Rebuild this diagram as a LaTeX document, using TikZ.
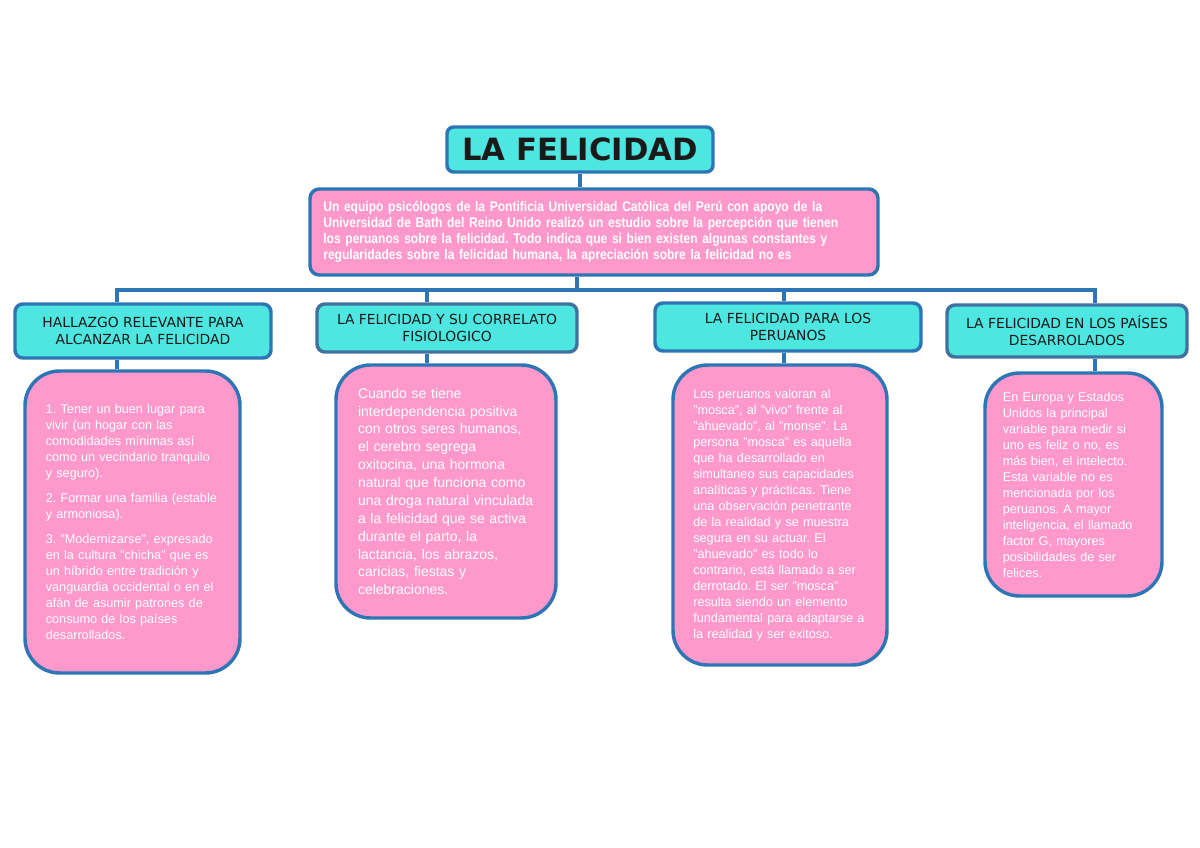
\documentclass[tikz,border=0pt]{standalone}
\usepackage{fontspec}
\setmainfont{Liberation Sans}
\newfontfamily\headfont{DejaVu Sans}
\newfontfamily\narrowfont[FakeStretch=0.86]{Liberation Sans}
\usetikzlibrary{positioning}
\definecolor{BoxBlue}{HTML}{2E75B6}
\definecolor{SteelBlue}{HTML}{41719C}
\definecolor{Aqua}{HTML}{4EE6E0}
\definecolor{Rose}{HTML}{FF99CC}
\definecolor{Ink}{HTML}{1A1A1A}
\frenchspacing

\begin{document}
\begin{tikzpicture}[x=0.75pt,y=-0.75pt,
      title/.style={rounded corners=5pt,draw=BoxBlue,fill=Aqua,line width=2.6pt,
      minimum width=199.5pt,minimum height=33.75pt,font=\headfont\bfseries\fontsize{23}{26}\selectfont,text=Ink},
      head/.style={rounded corners=6pt,draw=BoxBlue,fill=Aqua,line width=2.6pt,
      minimum height=36pt,align=center,font=\headfont\fontsize{10.4}{12.5}\selectfont,text=Ink},
      summary/.style={rounded corners=7pt,draw=BoxBlue,fill=Rose,line width=2.6pt,
      minimum width=426pt,minimum height=64.5pt,text width=406pt,align=left,
      font=\narrowfont\bfseries\fontsize{10.5}{12}\selectfont,text=white},
      note/.style={rounded corners=26pt,draw=BoxBlue,fill=Rose,line width=2.6pt,
      align=left,font=\fontsize{9.5}{12}\selectfont,text=white},
      link/.style={draw=BoxBlue,line width=2.6pt}]
  \fill[white] (0,0) rectangle (1200,848);
  \useasboundingbox (0,0) rectangle (1200,848);

  % title and summary
  \node[title] (felicidad) at (580,149.5) {LA FELICIDAD};
  \node[summary] (estudio) at (594,232)
    {Un equipo psicólogos de la Pontificia Universidad Católica del Perú con apoyo de la\\
     Universidad de Bath del Reino Unido realizó un estudio sobre la percepción que tienen\\
     los peruanos sobre la felicidad. Todo indica que si bien existen algunas constantes y\\
     regularidades sobre la felicidad humana, la apreciación sobre la felicidad no es};

  % bus
  \coordinate (bus) at (577,290);
  \coordinate (b1) at (117,290);
  \coordinate (b2) at (427,290);
  \coordinate (b3) at (784,290);
  \coordinate (b4) at (1095,290);

  % headings
  \node[head,minimum width=192pt,minimum height=40.5pt] (hallazgo) at (143,331)
    {HALLAZGO RELEVANTE PARA\\ALCANZAR LA FELICIDAD};
  \node[head,minimum width=195pt,draw=SteelBlue] (correlato) at (447,328)
    {LA FELICIDAD Y SU CORRELATO\\FISIOLOGICO};
  \node[head,minimum width=199.5pt] (peruanos) at (788,327)
    {LA FELICIDAD PARA LOS\\PERUANOS};
  \node[head,minimum width=180pt,minimum height=39pt,draw=SteelBlue] (paises) at (1067,331)
    {LA FELICIDAD EN LOS PAÍSES\\DESARROLADOS};

  % notes
  \node[note,minimum width=161.25pt,minimum height=226.5pt,text width=130pt] (lugar) at (132.5,522)
    {1. Tener un buen lugar para\\vivir (un hogar con las\\comodidades mínimas así\\
     como un vecindario tranquilo\\y seguro).\\[7pt]
     2. Formar una familia (estable\\y armoniosa).\\[7pt]
     3. "Modernizarse", expresado\\en la cultura "chicha" que es\\un híbrido entre tradición y\\
     vanguardia occidental o en el\\afán de asumir patrones de\\consumo de los países\\desarrollados.};
  \node[note,minimum width=165pt,minimum height=189.75pt,text width=132pt,
    font=\fontsize{10.5}{13.4}\selectfont] (oxitocina) at (446,491.5)
    {Cuando se tiene\\interdependencia positiva\\con otros seres humanos,\\el cerebro segrega\\
     oxitocina, una hormona\\natural que funciona como\\una droga natural vinculada\\
     a la felicidad que se activa\\durante el parto, la\\lactancia, los abrazos,\\
     caricias, fiestas y\\celebraciones.};
  \node[note,minimum width=160.5pt,minimum height=225pt,text width=130pt] (mosca) at (780,515)
    {Los peruanos valoran al\\"mosca", al "vivo" frente al\\"ahuevado", al "monse". La\\
     persona "mosca" es aquella\\que ha desarrollado en\\simultaneo sus capacidades\\
     analíticas y prácticas. Tiene\\una observación penetrante\\de la realidad y se muestra\\
     segura en su actuar. El\\"ahuevado" es todo lo\\contrario, está llamado a ser\\
     derrotado. El ser "mosca"\\resulta siendo un elemento\\fundamental para adaptarse a\\
     la realidad y ser exitoso.};
  \node[note,minimum width=132.75pt,minimum height=167.25pt,text width=106pt] (intelecto) at (1073.5,484.5)
    {En Europa y Estados\\Unidos la principal\\variable para medir si\\uno es feliz o no, es\\
     más bien, el intelecto.\\Esta variable no es\\mencionada por los\\peruanos. A mayor\\
     inteligencia, el llamado\\factor G, mayores\\posibilidades de ser\\felices.};

  % connectors
  \draw[link] (felicidad.south) -- (felicidad.south |- estudio.north);
  \draw[link] (estudio.south -| bus) -- (bus);
  \draw[link] (b1 |- hallazgo.north) -- (b1) -- (b4) -- (b4 |- paises.north);
  \draw[link] (b2) -- (b2 |- correlato.north);
  \draw[link] (b3) -- (b3 |- peruanos.north);
  \draw[link] (hallazgo.south -| b1) -- (b1 |- lugar.north);
  \draw[link] (correlato.south -| b2) -- (b2 |- oxitocina.north);
  \draw[link] (peruanos.south -| b3) -- (b3 |- mosca.north);
  \draw[link] (paises.south -| b4) -- (b4 |- intelecto.north);
\end{tikzpicture}
\end{document}
